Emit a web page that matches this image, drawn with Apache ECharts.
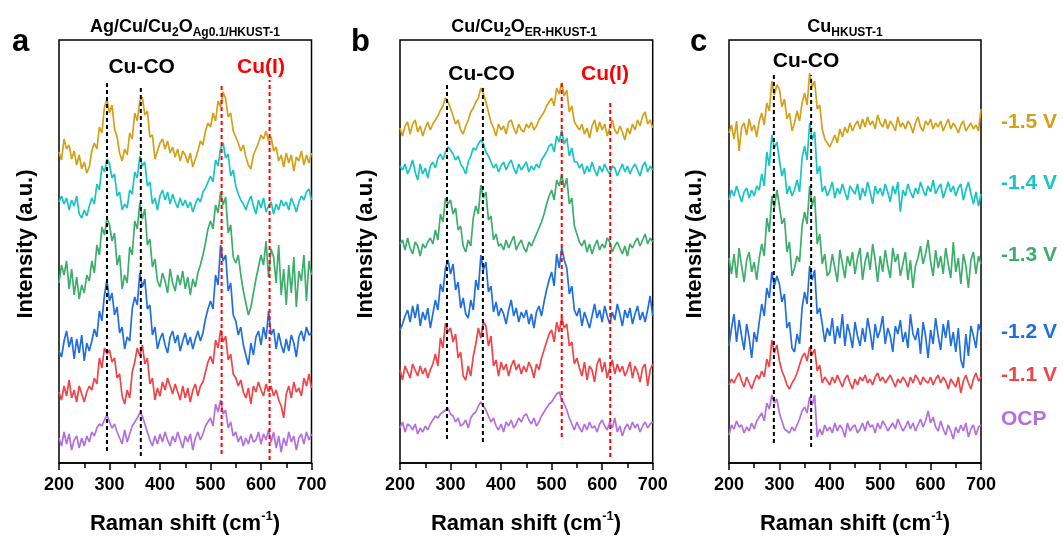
<!DOCTYPE html>
<html>
<head>
<meta charset="utf-8">
<script src="https://cdn.jsdelivr.net/npm/echarts@6/dist/echarts.min.js"></script>
<style>
  html, body { margin: 0; padding: 0; background: #fff; }
  #chart { width: 1063px; height: 538px; }
</style>
</head>
<body>
<div id="chart"></div>
<script>
// Raman shift grid: 200..700 cm-1, every 5 cm-1
const shiftStart = 200
const shiftStep = 5

// rows top -> bottom
const potentials = ['-1.5 V', '-1.4 V', '-1.3 V', '-1.2 V', '-1.1 V', 'OCP']

// ---- panel a : Ag/Cu/Cu2O (Ag0.1/HKUST-1) ----
const aGold = [
  5, -3, 18, 8, 12, -2, 6, -8, 2, -12,
  -5, -16, -10, 6, 14, 8, 30, 24, 50, 58,
  44, 52, 28, 20, 4, -4, 8, 2, 24, 18,
  44, 36, 56, 60, 42, 46, 20, 22, -2, 6,
  14, 18, 8, 16, 4, 10, 0, 8, -4, 6,
  2, -6, 4, -10, -2, 6, 16, 12, 26, 34,
  30, 44, 36, 56, 50, 65, 58, 40, 44, 26,
  20, 14, 6, 12, 0, -8, -12, 2, 8, 14,
  22, 18, 26, 16, 20, 6, 10, -4, 2, -10,
  4, -6, 2, -14, 0, -4, 6, -8, 2, -6,
  4
]
const aCyan = [
  4, 10, 2, 8, -4, 6, 0, 10, -8, -12,
  -4, -10, 0, 8, 2, 22, 16, 40, 34, 47,
  42, 28, 32, 10, 14, -4, 2, -2, 16, 12,
  34, 28, 50, 40, 44, 20, 24, 2, 8, -4,
  10, 16, 6, 14, 2, 12, 4, -2, 8, 0,
  6, -2, 4, -6, 2, 8, 4, 14, 18, 24,
  30, 24, 46, 40, 58, 63, 48, 52, 30, 36,
  20, 12, 6, 2, -4, 4, 10, 0, -8, 6,
  -2, 8, -6, 0, 4, -8, 2, -4, 6, 0,
  4, -4, 8, 2, -6, 4, 10, 6, 14, 17,
  6
]
const aGreen = [
  2, 20, 10, 24, -4, 16, -10, 8, -14, 0,
  -8, 10, 4, 24, 12, 40, 30, 58, 50, 67,
  60, 44, 52, 20, 30, -4, 10, 2, 38, 30,
  64, 56, 82, 66, 76, 40, 46, 18, 26, 4,
  -2, 12, 4, -8, 16, 2, -6, 10, 0, 14,
  -4, 8, -10, 6, -2, 12, 20, 30, 42, 56,
  64, 56, 80, 72, 93, 80, 88, 52, 60, 28,
  22, 30, 10, -6, -18, -30, -22, -8, 6, 18,
  30, 20, 44, 8, 36, 28, 2, 40, -10, 16,
  -20, 20, -8, 28, -22, 14, 4, 30, -16, 24,
  10
]
const aBlue = [
  -6, -12, 4, 14, -2, 8, -14, 6, -8, 10,
  -16, 2, -6, 4, 16, 8, 34, 24, 50, 65,
  44, 52, 30, 38, 12, 18, -4, 8, 4, 36,
  48, 40, 72, 58, 66, 36, 40, 10, 18, -4,
  6, 12, 0, -8, 8, 14, 2, 10, -6, 4,
  12, 0, 8, -4, 6, 14, 4, 12, 26, 36,
  44, 36, 70, 60, 100, 84, 90, 54, 62, 30,
  24, 10, 18, 0, -10, -20, 2, -10, 8, 14,
  0, 18, 6, 34, 10, 16, -4, 12, 0, -8,
  6, -6, 10, 2, -12, 8, 14, 4, 18, 10,
  12
]
const aRed = [
  0, -8, 6, -4, 12, -6, 2, -10, 6, -2,
  -10, 0, 6, 2, 14, 8, 34, 24, 44, 38,
  42, 30, 34, 14, 18, -4, -12, 2, -6, 20,
  30, 44, 36, 47, 28, 34, 8, 14, -8, 4,
  -4, 10, 2, 14, 6, -2, 8, 0, -8, 6,
  -6, 4, -10, 2, 8, -4, 6, 10, 20, 30,
  36, 28, 52, 44, 62, 50, 56, 32, 38, 18,
  14, 6, 12, 0, -6, 4, -12, 6, 0, 10,
  2, -4, 8, 0, 6, -4, 2, -8, -14, -26,
  -2, 6, -6, 10, 0, 4, -4, 14, 6, 18,
  4
]
const aPurple = [
  2, -6, 8, -4, 6, -10, 0, 4, -8, 2,
  -6, 4, -2, 8, 4, 12, 16, 14, 20, 25,
  18, 12, 16, 8, 2, -4, 10, -2, 6, 14,
  18, 22, 27, 24, 16, 8, 0, -6, 4, -4,
  6, -2, 8, 0, -6, 4, -2, 8, 0, -8,
  4, -2, 6, -10, 2, 8, 0, 6, 14, 18,
  22, 14, 36, 28, 40, 26, 30, 12, 18, 4,
  8, -2, 4, -6, 2, -4, 6, -2, 0, 8,
  -4, 6, 0, 10, -2, 8, -8, 4, -12, 2,
  -6, 8, -2, 4, -10, 2, 6, -4, 8, 0,
  6
]

// ---- panel b : Cu/Cu2O (ER-HKUST-1) ----
const bGold = [
  2, -6, 4, 8, -4, 6, 10, -2, 4, -6,
  2, 8, 0, 6, 10, 14, 20, 24, 32, 28,
  22, 14, 6, 10, 0, -4, 4, 10, 18, 22,
  28, 32, 42, 36, 28, 18, 8, 2, -6, 6,
  0, 4, -4, 8, 10, 2, -4, 6, 0, -2,
  6, 2, 8, 0, 4, 10, 14, 18, 24, 28,
  32, 24, 42, 36, 47, 34, 40, 18, 24, 8,
  4, 0, 6, -4, 2, -8, 4, 10, -2, 8,
  0, 6, -6, 2, 10, 0, -4, 4, -2, -10,
  2, -4, 6, 0, 10, 4, 14, 18, 6, 10,
  2
]
const bCyan = [
  4, 0, 6, -4, 2, 10, -2, -10, 6, -4,
  2, -8, 4, 8, 2, 12, 16, 10, 18, 23,
  20, 16, 10, 14, 6, 2, -4, 8, 14, 22,
  20, 26, 30, 26, 18, 14, 8, 2, 6, -2,
  4, 8, 0, 6, 10, 2, -4, 6, 0, 4,
  8, -2, 4, 0, 6, 2, 10, 14, 18, 24,
  26, 18, 34, 28, 40, 26, 32, 14, 22, 8,
  8, 2, 6, -4, 4, -2, 8, 0, -6, 4,
  -2, 6, 0, -4, 4, 2, -6, 0, 6, -2,
  4, -4, 2, 6, 0, -6, 4, 8, -2, 4,
  0
]
const bGreen = [
  4, 8, -2, 10, 0, -6, 6, 2, -8, 4,
  0, 6, 10, 4, 18, 8, 34, 26, 50, 44,
  48, 34, 40, 18, 22, 2, -4, 8, 2, 30,
  42, 34, 63, 50, 56, 28, 32, 8, 14, 2,
  4, -2, 8, 0, 6, 12, -2, 4, 8, 0,
  -4, 6, 2, 8, 14, 20, 26, 34, 44, 52,
  58, 48, 68, 62, 73, 60, 70, 44, 50, 22,
  14, 6, 2, 8, -4, 4, -6, 2, 8, -2,
  4, 0, 10, 6, -4, 2, 6, 0, -6, 2,
  -8, 4, 0, 6, 10, 2, 8, 14, 4, 10,
  6
]
const bBlue = [
  -10, -4, 4, 10, -2, 14, 2, 16, -6, 8,
  0, 12, -8, 6, 20, 10, 36, 28, 52, 60,
  46, 56, 30, 38, 12, 22, 6, 2, 20, 10,
  40, 30, 65, 50, 58, 28, 34, 8, 18, 4,
  12, 6, -4, 10, 20, 4, 12, -2, 8, 2,
  10, -4, 6, -8, 8, 14, 4, 18, 30, 40,
  48, 34, 66, 52, 72, 60, 52, 26, 34, 10,
  4, 12, -6, 8, 0, -8, 4, 16, 2, 10,
  -2, 14, 4, -4, 8, 0, 16, 6, -6, 10,
  2, 12, -4, 6, 14, 0, 8, -2, 10, 24,
  4
]
const bRed = [
  2, -8, 6, 0, -6, 8, 2, -4, 6, -2,
  4, -6, 2, 8, 18, 6, 34, 24, 49, 40,
  44, 30, 38, 14, 20, -4, -8, 6, -4, 16,
  28, 44, 34, 50, 46, 26, 36, 6, 12, -4,
  10, 2, 8, -4, 6, 12, 2, 8, -2, 6,
  0, 10, 4, -6, 8, 2, 14, 22, 30, 38,
  42, 30, 50, 40, 55, 44, 48, 26, 30, 8,
  14, 4, -4, 10, -8, 6, 2, -10, 8, 14,
  0, 10, -6, 4, 12, -2, 8, 0, 6, -4,
  2, 10, -6, 6, 0, -10, 4, 8, -14, 2,
  8
]
const bPurple = [
  0, 6, -4, 4, 2, -2, 4, -6, 0, -4,
  2, -2, 4, 8, 12, 10, 14, 16, 18, 20,
  14, 12, 6, 10, 2, 4, 8, 0, 10, 14,
  16, 22, 26, 22, 18, 12, 6, 10, 2, -2,
  4, -4, 6, 2, 8, 0, 4, 10, 6, 12,
  14, 8, 4, 10, 2, 6, 12, 16, 20, 24,
  26, 30, 34, 36, 28, 24, 18, 10, 4, -2,
  6, 0, -4, 4, -2, 6, 0, 2, -4, 4,
  8, 2, -2, 6, 0, 10, -4, 2, -8, 0,
  4, -2, 6, 0, 4, -4, 2, 6, 0, 4,
  6
]

// ---- panel c : Cu (HKUST-1) ----
const cGold = [
  -2, 6, -8, 10, -20, 4, 8, -4, 12, 0,
  6, -6, 10, 18, 6, 28, 20, 50, 36, 46,
  42, 24, 32, 12, 18, 0, 8, 20, 10, 28,
  38, 26, 58, 44, 50, 22, 26, 2, -8, -12,
  -16, -10, -4, -12, 2, -6, 4, -2, 8, 0,
  6, 10, 2, 12, 4, 14, 6, 10, 2, 16,
  8, 4, 12, 2, 10, 6, 0, 14, 4, 8,
  2, 10, 6, -2, 8, 14, 4, 0, 10, 6,
  12, 2, 8, 4, 10, 0, 6, 12, 2, 8,
  4, -2, 6, 10, 0, 4, 8, 2, 6, 0,
  22
]
const cCyan = [
  -4, 6, 0, 10, 2, -6, 4, 8, -2, 6,
  0, 10, 6, 22, 10, 44, 30, 61, 48, 54,
  36, 20, 28, 2, 10, 0, 6, 16, 4, 38,
  50, 36, 73, 56, 64, 22, 30, 4, 10, 0,
  6, 14, -2, 8, 2, 12, 4, -4, 10, 6,
  2, 12, -4, 8, 0, 14, 4, -8, 10, 2,
  8, 0, 12, 4, -6, 10, 2, 14, -16, 6,
  0, 12, 4, -2, 8, 2, 14, 6, 0, 10,
  4, 16, 2, 8, 12, -2, 6, 14, 4, 10,
  0, 8, 12, -4, 6, 14, 2, -8, 4, -10,
  2
]
const cGreen = [
  10, -6, 14, -10, 20, 2, -14, 8, 16, -4,
  6, -12, 10, 24, 12, 50, 36, 72, 60, 78,
  62, 44, 50, 16, 26, -8, 0, 12, 6, 42,
  56, 44, 82, 62, 72, 24, 34, 4, 14, -8,
  -4, 14, 0, -14, 18, 4, -10, 12, 2, 16,
  -6, 10, 20, -12, 6, 16, -2, 24, 8, -14,
  12, -4, 18, 2, -10, 20, 6, 14, -8, 4,
  16, -12, 8, -20, 2, 10, 22, 4, 14, 28,
  6, -8, 18, 0, 12, -6, 20, 4, -10, 26,
  -4, 10, -16, 14, 2, -20, 8, 16, -6, 12,
  4
]
const cBlue = [
  -8, 10, 24, -4, 18, 2, -12, 14, 0, -20,
  6, -4, 16, 34, 22, 50, 40, 66, 52, 62,
  54, 36, 44, 10, 16, -10, -14, 4, -6, 30,
  46, 34, 72, 58, 68, 24, 30, 14, -4, 10,
  2, 20, -6, 12, 0, 24, -8, 14, 4, -10,
  16, 2, -8, 10, -4, 20, 6, -12, 14, 0,
  8, 22, -6, 10, 2, -14, 12, 4, 18, -4,
  6, -10, 24, 4, -2, 10, -16, 16, 2, -20,
  8, -6, 20, 2, -12, 14, 0, 18, -8, 6,
  -14, 10, -22, -30, 4, -18, 12, 2, -10, 14,
  6
]
const cRed = [
  -2, 4, 0, 6, 10, 2, -4, 6, 0, -6,
  2, 8, 4, 12, 6, 24, 16, 43, 30, 38,
  22, 12, 6, -2, -6, 0, 4, 10, 18, 26,
  30, 22, 36, 28, 34, 12, 18, 0, 6, 2,
  -2, 6, 0, 8, 2, -4, 4, 8, 0, -6,
  4, -2, 6, 2, 8, 0, 4, -2, 6, 10,
  2, 6, 0, 4, 8, 2, -4, 4, 0, 6,
  2, -4, 6, 0, 8, 4, -2, 6, 2, 0,
  6, -2, 4, 8, 0, 6, 2, -6, 4, 0,
  -4, 6, -10, 2, 8, 0, -6, 4, 10, 2,
  6
]
const cPurple = [
  -4, 6, 2, 10, 4, 6, -2, 4, 0, 8,
  2, 10, 14, 18, 10, 28, 22, 36, 28, 32,
  18, 10, 2, 0, -2, 4, 0, 6, 12, 20,
  24, 18, 34, 26, 36, -6, 2, -4, 6, 0,
  4, -2, 8, 0, 6, 2, -6, 8, 0, 4,
  6, -2, 2, 8, 0, 10, 4, 6, -2, 8,
  2, 10, 6, 0, 4, 8, 2, 12, 6, 0,
  4, 10, 2, 8, 0, 6, 12, 4, 10, 20,
  8, 14, 4, 0, 10, 2, -4, 6, 0, -8,
  4, -2, 6, 0, 8, -6, 2, 6, -4, 4,
  6
]

// stacking offsets (same units as the y axis)
const offsetsA = [306, 257, 178, 118, 71, 23]
const offsetsB = [333, 293, 215, 143, 91, 35]
const offsetsC = [332, 267, 195, 125, 80, 32]

// dashed guide lines: position, top, bottom
const peaksA = [295, 362, 522, 617]
const peakTopA = [383, 377, 380, 383]
const peakBottomA = [12, 7, 9, 3]
const peaksB = [293, 364, 520, 616]
const peakTopB = [380, 377, 383, 361]
const peakBottomB = [24, 21, 26, 6]
const peaksC = [289, 363]
const peakTopC = [391, 388]
const peakBottomC = [20, 16]

const traceColors = ['#D4A017', '#19C4C4', '#3CAE6C', '#1F6FE0', '#F04448', '#B36FDF']
const FONT = 'Arial, "Liberation Sans", sans-serif'

const panels = [
  { traces: [aGold, aCyan, aGreen, aBlue, aRed, aPurple], offsets: offsetsA,
    peaks: peaksA, tops: peakTopA, bottoms: peakBottomA },
  { traces: [bGold, bCyan, bGreen, bBlue, bRed, bPurple], offsets: offsetsB,
    peaks: peaksB, tops: peakTopB, bottoms: peakBottomB },
  { traces: [cGold, cCyan, cGreen, cBlue, cRed, cPurple], offsets: offsetsC,
    peaks: peaksC, tops: peakTopC, bottoms: peakBottomC }
]

const grids = [
  { left: 59, top: 40, width: 252.5, height: 423 },
  { left: 400, top: 40, width: 252.7, height: 423 },
  { left: 729, top: 40, width: 252, height: 423 }
]

const xAxes = []
const yAxes = []
const series = []

panels.forEach((p, k) => {
  xAxes.push({
    type: 'value', gridIndex: k, min: 200, max: 700, interval: 100,
    axisLine: { lineStyle: { color: '#000', width: 1.5 } },
    axisTick: { inside: false, length: 7, lineStyle: { color: '#000', width: 1.5 } },
    minorTick: { show: true, splitNumber: 2, length: 5, lineStyle: { color: '#000', width: 1.5 } },
    splitLine: { show: false },
    axisLabel: { color: '#000', fontSize: 18, fontWeight: 'bold', fontFamily: FONT, margin: 13 }
  })
  yAxes.push({ type: 'value', gridIndex: k, min: 0, max: 423, show: false })

  p.traces.forEach((vals, j) => {
    series.push({
      type: 'line', xAxisIndex: k, yAxisIndex: k,
      data: vals.map((v, i) => [shiftStart + shiftStep * i, p.offsets[j] + v]),
      showSymbol: false, symbol: 'none', silent: true, z: 2 + j,
      lineStyle: { color: traceColors[j], width: 1.7 }
    })
  })

  p.peaks.forEach((pos, j) => {
    const cuI = j >= 2
    series.push({
      type: 'line', xAxisIndex: k, yAxisIndex: k,
      data: [[pos, p.bottoms[j]], [pos, p.tops[j]]],
      showSymbol: false, symbol: 'none', silent: true, z: 20,
      lineStyle: { color: cuI ? '#FF0000' : '#000', width: 2, type: [4, 3] }
    })
  })
})

const titles = [
  { x: 185, text: '{m|Ag/Cu/Cu}{s|2}{m|O}{s|Ag0.1/HKUST-1}' },
  { x: 524, text: '{m|Cu/Cu}{s|2}{m|O}{s|ER-HKUST-1}' },
  { x: 845, text: '{m|Cu}{s|HKUST-1}' }
]
const richTitle = {
  m: { fontSize: 18, fontWeight: 'bold', fontFamily: FONT, fill: '#000', lineHeight: 24, verticalAlign: 'middle' },
  s: { fontSize: 12, fontWeight: 'bold', fontFamily: FONT, fill: '#000', lineHeight: 24, verticalAlign: 'bottom' }
}
const richX = {
  m: { fontSize: 22, fontWeight: 'bold', fontFamily: FONT, fill: '#000', lineHeight: 28, verticalAlign: 'middle' },
  s: { fontSize: 13, fontWeight: 'bold', fontFamily: FONT, fill: '#000', lineHeight: 28, verticalAlign: 'top' }
}

const graphic = []
const letters = [['a', 12], ['b', 351], ['c', 690]]
letters.forEach(([t, x]) => graphic.push({
  type: 'text', x: x, y: 42, silent: true,
  style: { text: t, font: 'bold 31px ' + FONT, fill: '#000', textAlign: 'left', textVerticalAlign: 'middle' }
}))
titles.forEach(t => graphic.push({
  type: 'text', x: t.x, y: 27, silent: true,
  style: { text: t.text, rich: richTitle, textAlign: 'center', textVerticalAlign: 'middle' }
}))
;[185, 526, 855].forEach(x => graphic.push({
  type: 'text', x: x, y: 524, silent: true,
  style: { text: '{m|Raman shift (cm}{s|-1}{m|)}', rich: richX, textAlign: 'center', textVerticalAlign: 'middle' }
}))
;[25.5, 365.5, 694.5].forEach(x => graphic.push({
  type: 'text', x: x, y: 244, rotation: Math.PI / 2, silent: true,
  style: { text: 'Intensity (a.u.)', font: 'bold 22px ' + FONT, fill: '#000', textAlign: 'center', textVerticalAlign: 'middle' }
}))
const coLabels = [[141.7, 67], [481.5, 74], [806, 61]]
coLabels.forEach(([x, y]) => graphic.push({
  type: 'text', x: x, y: y, silent: true,
  style: { text: 'Cu-CO', font: 'bold 21px ' + FONT, fill: '#000', textAlign: 'center', textVerticalAlign: 'middle' }
}))
;[[261, 67], [605, 74]].forEach(([x, y]) => graphic.push({
  type: 'text', x: x, y: y, silent: true,
  style: { text: 'Cu(I)', font: 'bold 21px ' + FONT, fill: '#FF0000', textAlign: 'center', textVerticalAlign: 'middle' }
}))
const potentialY = [122, 183, 255, 332, 375, 419]
potentials.forEach((t, j) => graphic.push({
  type: 'text', x: 1001, y: potentialY[j], silent: true,
  style: { text: t, font: 'bold 21px ' + FONT, fill: traceColors[j], textAlign: 'left', textVerticalAlign: 'middle' }
}))

const myChart = echarts.init(document.getElementById('chart'))
myChart.setOption({
  animation: false,
  backgroundColor: '#fff',
  grid: grids.map(g => Object.assign({ show: true, borderColor: '#000', borderWidth: 1.5, backgroundColor: 'transparent' }, g)),
  xAxis: xAxes,
  yAxis: yAxes,
  series: series,
  graphic: graphic
})
</script>
</body>
</html>
